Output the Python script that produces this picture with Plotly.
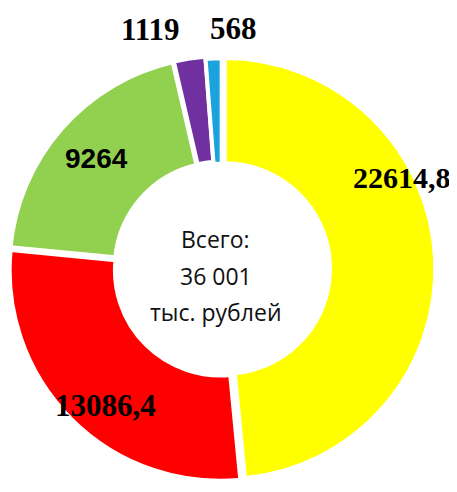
import plotly.graph_objects as go

# slice values, clockwise from 12 o'clock
values = [22614.8, 13086.4, 9264, 1119, 568]
value_labels = ["22614,8", "13086,4", "9264", "1119", "568"]
colors = ["#FFFF00", "#FF0000", "#92D050", "#7030A0", "#1AA3DC"]
center_lines = ["Всего:", "36 001", "тыс. рублей"]

# label placement (paper coords) and font per label
label_pos = [(0.862, 0.655), (0.213, 0.193), (0.193, 0.695), (0.311, 0.956), (0.493, 0.958)]
label_fonts = ["Liberation Serif", "Liberation Serif", "Liberation Sans",
               "Liberation Serif", "Liberation Serif"]
label_sizes = [30, 31, 28, 31, 31]

fig = go.Figure()
fig.add_trace(go.Pie(
    values=values,
    marker=dict(colors=colors, line=dict(color="white", width=4)),
    hole=0.5,
    sort=False,
    direction="clockwise",
    rotation=0,
    pull=[0.015, 0.01, 0.01, 0.01, 0.0],
    textinfo="none",
    hoverinfo="skip",
    showlegend=False,
    domain=dict(x=[0.0, 0.935], y=[0.035, 0.905]),
))

for txt, (px, py), fam, sz in zip(value_labels, label_pos, label_fonts, label_sizes):
    fig.add_annotation(
        x=px, y=py, xref="paper", yref="paper",
        xanchor="center", yanchor="middle",
        text="<b>" + txt + "</b>", showarrow=False,
        font=dict(family=fam, size=sz, color="black"),
        borderpad=0,
    )

# centre caption, one annotation per line for wider line spacing
for i, line in enumerate(center_lines):
    fig.add_annotation(
        x=0.455, y=0.53 - i * 0.074, xref="paper", yref="paper",
        xanchor="center", yanchor="middle",
        text=line, showarrow=False,
        font=dict(family="Open Sans", size=23, color="#111111"),
    )

fig.update_layout(
    width=457, height=492,
    margin=dict(l=0, r=0, t=0, b=0),
    paper_bgcolor="white",
    plot_bgcolor="white",
)

fig.write_html("out.html")
